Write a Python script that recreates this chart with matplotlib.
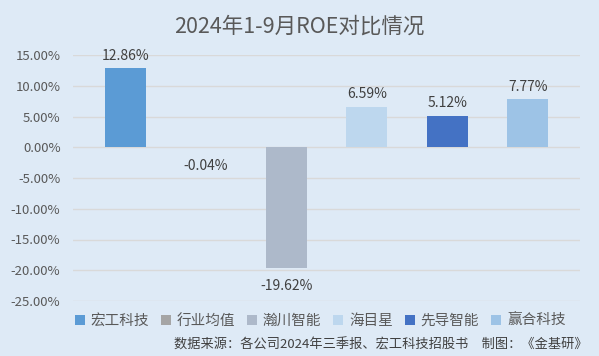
import matplotlib
matplotlib.use("Agg")
import matplotlib.pyplot as plt
from matplotlib.patches import Patch
from matplotlib.ticker import FuncFormatter

plt.rcParams['font.family'] = ['Noto Sans CJK SC', 'DejaVu Sans']

categories = ["宏工科技", "行业均值", "瀚川智能", "海目星", "先导智能", "赢合科技"]
roe = [12.86, -0.04, -19.62, 6.59, 5.12, 7.77]
colors = ["#5B9BD5", "#A5A5A5", "#ADB9CA", "#BDD7EE", "#4472C4", "#9DC3E6"]
yticks = [15, 10, 5, 0, -5, -10, -15, -20, -25]
title = "2024年1-9月ROE对比情况"
source = "数据来源：各公司2024年三季报、宏工科技招股书　制图：《金基研》"

bg = "#DEEAF6"
fig = plt.figure(figsize=(5.99, 3.56), dpi=100, facecolor=bg)
ax = fig.add_axes([73/599, 55/356, (580-73)/599, (301-55)/356])
ax.set_facecolor(bg)

x = list(range(len(categories)))
ax.bar(x, roe, width=0.51, color=colors, zorder=3)

ax.set_ylim(-25, 15)
ax.set_xlim(-0.65, 5.65)
ax.set_yticks(yticks)
ax.yaxis.set_major_formatter(FuncFormatter(lambda v, p: f"{v:.2f}%"))
ax.set_xticks([])
ax.tick_params(axis='y', length=0, pad=9, labelsize=9.5, labelcolor="#595959")
ax.grid(axis='y', color="#D9D9D9", linewidth=1, zorder=0)
for s in ax.spines.values():
    s.set_visible(False)

for xi, v in zip(x, roe):
    if v >= 0:
        ax.annotate(f"{v:.2f}%", (xi, v), xytext=(0, 4), textcoords="offset points",
                    ha="center", va="bottom", fontsize=10, color="#404040")
    else:
        ax.annotate(f"{v:.2f}%", (xi, v), xytext=(0, -8), textcoords="offset points",
                    ha="center", va="top", fontsize=10, color="#404040")

fig.text(0.5, 1 - 27/356, title, ha="center", va="center", fontsize=15.5, color="#595959")

handles = [Patch(facecolor=c, edgecolor="none") for c in colors]
leg = fig.legend(handles, categories, loc="center", bbox_to_anchor=(320/599, 1 - 321/356),
                 ncol=6, frameon=False, fontsize=10.5, handlelength=0.7, handleheight=0.7,
                 handletextpad=0.4, columnspacing=0.8, labelcolor="#595959")

fig.text(588/599, 1 - 345/356, source, ha="right", va="center", fontsize=9.5, color="#404040")

fig.savefig("out.png", dpi=100, facecolor=bg)
